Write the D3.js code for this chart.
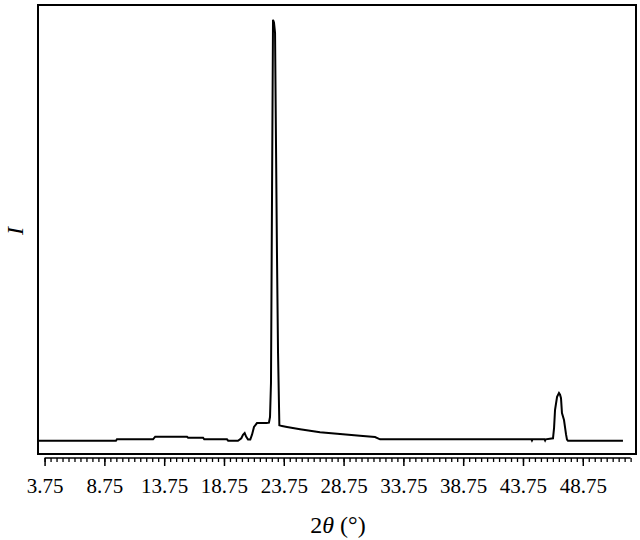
<!DOCTYPE html>
<html>
<head>
<meta charset="utf-8">
<script src="https://cdn.jsdelivr.net/npm/d3@7"></script>
<style>
  html, body { margin: 0; padding: 0; background: #fff; }
  svg { display: block; }
</style>
</head>
<body>
<svg id="chart" width="640" height="540"></svg>
<script>
// Diffraction pattern (2θ in degrees, intensity in arbitrary units)
const twoTheta = [
  3.28, 9.72, 9.8, 12.82, 13.0, 15.66, 15.75, 17.0, 17.1, 19.0, 19.1, 19.92,
  20.2, 20.34, 20.48, 20.6, 20.76, 20.95, 21.1, 21.26, 21.51, 21.93, 22.3,
  22.51, 22.6, 22.68, 22.77, 22.85, 22.93, 23.02, 23.1, 23.18, 23.27, 23.38,
  23.6, 24.02, 25.11, 26.78, 28.45, 30.12, 31.38, 31.8, 44.45, 44.5, 44.55,
  45.55, 45.6, 45.65, 46.26, 46.35, 46.43, 46.6, 46.76, 46.85, 46.93, 47.01,
  47.18, 47.35, 47.43, 47.51, 52.11
];
const intensity = [
  30.5, 30.5, 33.7, 33.7, 39.7, 39.7, 37.4, 37.4, 33.7, 33.7, 30.5, 30.5,
  36, 44, 48, 40, 33, 33, 45, 62, 71, 71, 71,
  72, 85, 163, 606, 996, 990, 966, 709, 461, 232, 66,
  64, 62, 57, 50, 46, 42, 39, 33.7, 33.7, 31, 33.7,
  33.7, 31, 33.7, 36, 60, 101, 131, 140, 136, 128, 94,
  78, 45, 33, 30.5, 30.5
];
const majorTicks = [3.75, 8.75, 13.75, 18.75, 23.75, 28.75, 33.75, 38.75, 43.75, 48.75];
const tickLabels = ["3.75", "8.75", "13.75", "18.75", "23.75", "28.75", "33.75", "38.75", "43.75", "48.75"];
const minorStep = 0.5;
const lastMinorTick = 52.75;
const xTitle = "2θ (°)";
const yTitle = "I";

const svg = d3.select("#chart");
const frame = { left: 38, right: 636, top: 5, bottom: 454 };

const x = d3.scaleLinear().domain([3.2, 53.2]).range([frame.left, frame.right]);
const y = d3.scaleLinear().domain([0, 1030]).range([frame.bottom, frame.top]);

const data = twoTheta.map((t, i) => ({ t, v: intensity[i] }));

// frame
svg.append("rect")
  .attr("x", frame.left).attr("y", frame.top)
  .attr("width", frame.right - frame.left)
  .attr("height", frame.bottom - frame.top)
  .attr("fill", "none").attr("stroke", "#000").attr("stroke-width", 2);

// data line
svg.append("path")
  .datum(data)
  .attr("fill", "none")
  .attr("stroke", "#000")
  .attr("stroke-width", 2)
  .attr("stroke-linejoin", "miter")
  .attr("d", d3.line().x(d => x(d.t)).y(d => y(d.v)));

// axis below frame
const axisY = 458;
const minorTicks = d3.range(majorTicks[0], lastMinorTick + 0.001, minorStep);
const axisG = svg.append("g").attr("transform", `translate(0,${axisY})`);

axisG.append("line")
  .attr("x1", x(majorTicks[0])).attr("x2", x(lastMinorTick))
  .attr("y1", 0).attr("y2", 0)
  .attr("stroke", "#000").attr("stroke-width", 1.5);

const minorAxis = d3.axisBottom(x).tickValues(minorTicks).tickSize(4).tickSizeOuter(0).tickFormat("");
const minorG = axisG.append("g").call(minorAxis);
minorG.select(".domain").remove();
minorG.selectAll(".tick line").attr("stroke", "#000").attr("stroke-width", 1.3);

const majorAxis = d3.axisBottom(x).tickValues(majorTicks).tickSize(8).tickSizeOuter(0)
  .tickFormat((d, i) => tickLabels[i]).tickPadding(12);
const majorG = axisG.append("g").call(majorAxis);
majorG.select(".domain").remove();
majorG.selectAll(".tick line").attr("stroke", "#000").attr("stroke-width", 1.5);
majorG.selectAll(".tick text")
  .attr("font-family", "'Liberation Serif', 'DejaVu Serif', serif")
  .attr("font-size", 21)
  .attr("fill", "#000");

// x title
const xt = svg.append("text")
  .attr("x", 338).attr("y", 533)
  .attr("text-anchor", "middle")
  .attr("font-family", "'Liberation Serif', 'DejaVu Serif', serif")
  .attr("font-size", 24)
  .attr("fill", "#000");
xt.append("tspan").text(xTitle.slice(0, 1));
xt.append("tspan").attr("font-style", "italic").text(xTitle.slice(1, 2));
xt.append("tspan").text(xTitle.slice(2));

// y title
svg.append("text")
  .attr("transform", "translate(23,231) rotate(-90)")
  .attr("text-anchor", "middle")
  .attr("font-family", "'Liberation Serif', 'DejaVu Serif', serif")
  .attr("font-style", "italic")
  .attr("font-size", 24)
  .attr("fill", "#000")
  .text(yTitle);
</script>
</body>
</html>
